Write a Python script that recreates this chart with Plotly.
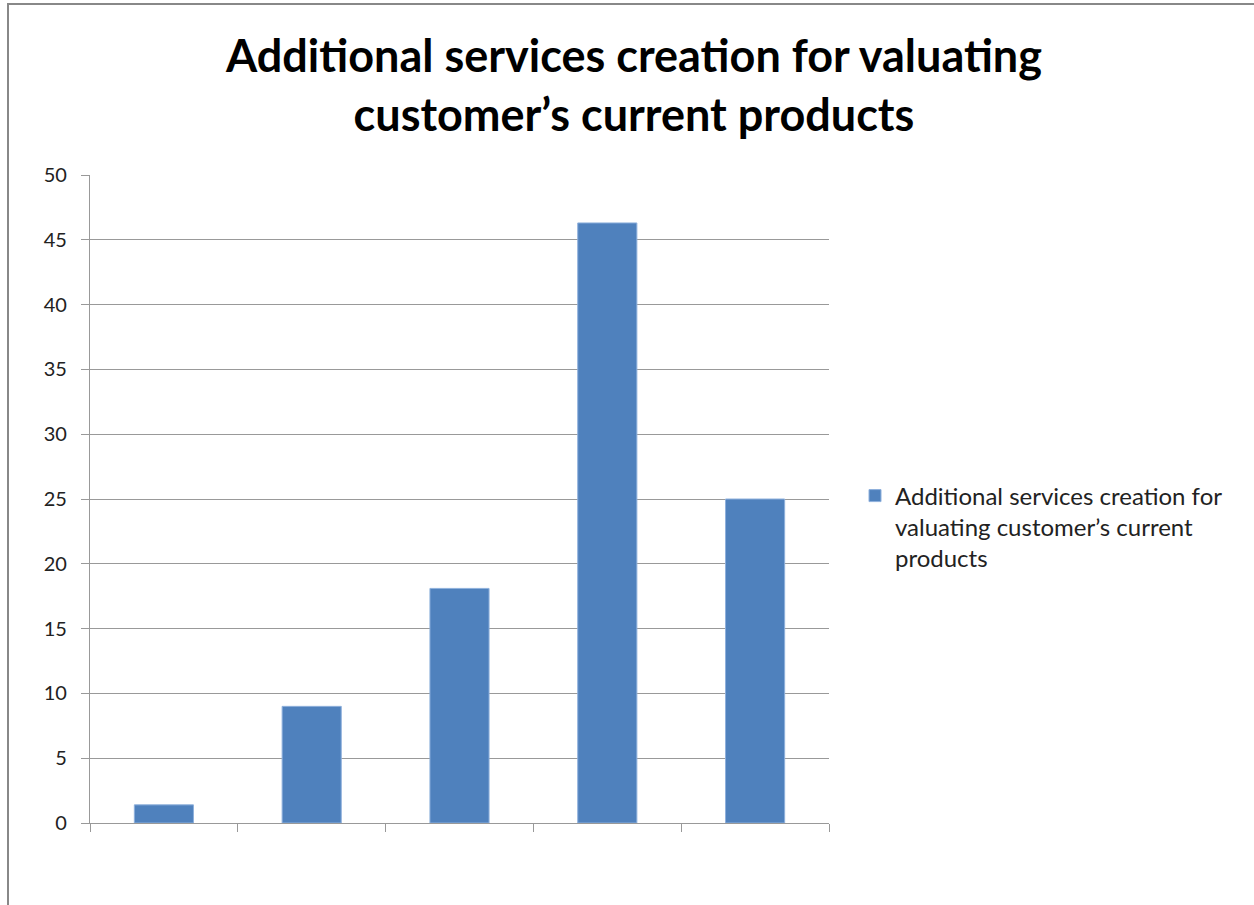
import plotly.graph_objects as go

categories = [1, 2, 3, 4, 5]
values = [1.4, 9.0, 18.1, 46.3, 25.0]
series_name = "Additional services creation for<br>valuating customer’s current<br>products"
title_text = "Additional services creation for valuating<br>customer’s current products"
y_ticks = [0, 5, 10, 15, 20, 25, 30, 35, 40, 45, 50]

W, H = 1254, 905
L, R, T, B = 90, 829, 175, 823

def px_x(p):
    return (p - L) / (R - L)

def px_y(p):
    return (B - p) / (B - T)

fig = go.Figure()
fig.add_trace(go.Bar(
    x=categories, y=values, name=series_name,
    marker=dict(color="#4F81BD", line=dict(color="#8EB0DC", width=1)),
    showlegend=True,
))

fig.update_layout(
    width=W, height=H,
    margin=dict(l=L, r=W - R, t=T, b=H - B),
    paper_bgcolor="white", plot_bgcolor="white",
    bargap=0.6,
    font=dict(family="Lato", color="#222222"),
    title=dict(text=title_text, x=634 / W, xanchor="center", y=1 - 72 / H, yanchor="middle",
               font=dict(family="Lato", size=45, color="black", weight="bold")),
    showlegend=True,
    legend=dict(x=px_x(855), xanchor="left", y=px_y(527), yanchor="middle",
                valign="top",
                font=dict(family="Lato", size=24, color="#222222"),
                itemwidth=30, bgcolor="rgba(0,0,0,0)"),
    xaxis=dict(range=[0.5, 5.5], tickmode="array",
               tickvals=[0.5, 1.5, 2.5, 3.5, 4.5, 5.5], ticktext=[""] * 6,
               ticks="outside", ticklen=8, tickcolor="#999999", tickwidth=1.3,
               showgrid=False, showline=True, linecolor="#999999", linewidth=1.3,
               zeroline=False),
    yaxis=dict(range=[0, 50], tickmode="array", tickvals=y_ticks,
               ticks="outside", ticklen=8, tickcolor="#999999", tickwidth=1.3,
               showgrid=True, gridcolor="#999999", gridwidth=1.3,
               showline=True, linecolor="#999999", linewidth=1.3, zeroline=False,
               tickfont=dict(family="Lato", size=20, color="#222222"),
               ticklabelstandoff=10),
    shapes=[dict(type="rect", xref="paper", yref="paper",
                 x0=px_x(8), x1=px_x(W + 20), y0=px_y(H + 20), y1=px_y(4),
                 line=dict(color="#888888", width=2), fillcolor="rgba(0,0,0,0)", layer="below")],
)

fig.write_html("out.html")
